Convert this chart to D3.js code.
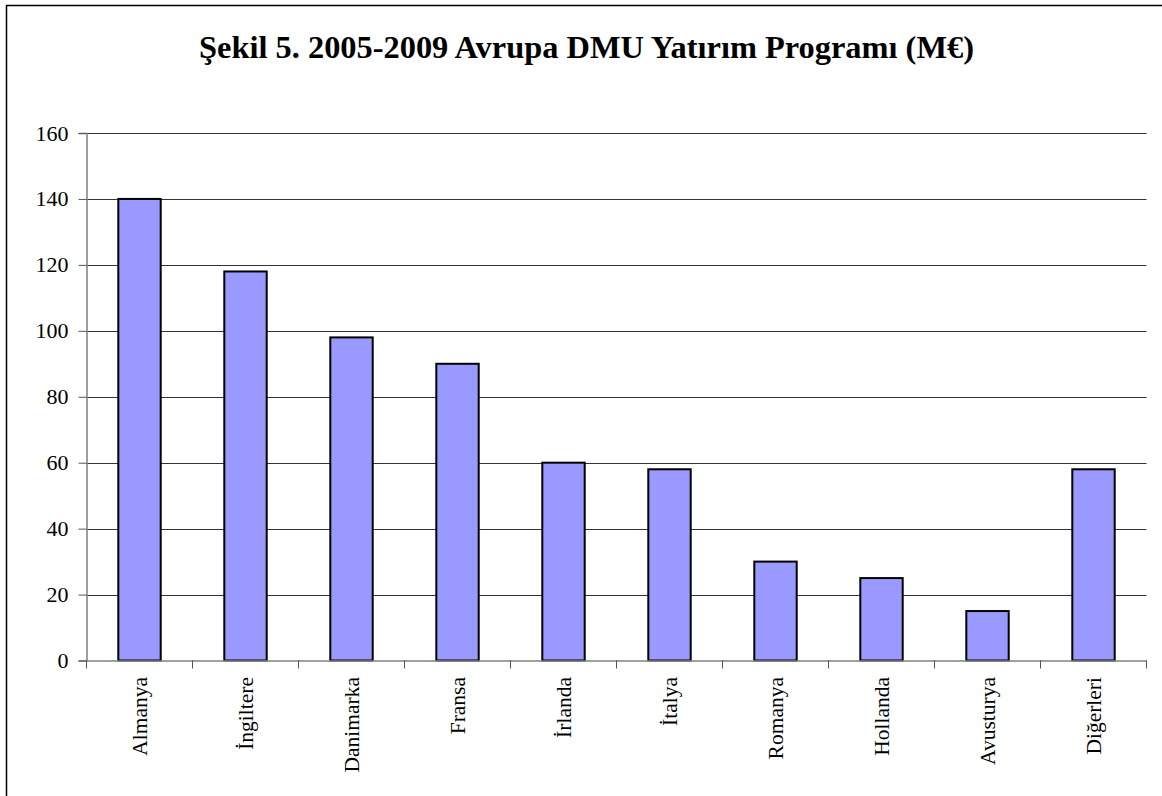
<!DOCTYPE html>
<html>
<head>
<meta charset="utf-8">
<script src="https://cdn.jsdelivr.net/npm/d3@7"></script>
<style>
  html, body { margin: 0; padding: 0; background: #fff; }
  svg { display: block; }
  text { font-family: "Liberation Serif", "Times New Roman", serif; fill: #000; }
</style>
</head>
<body>
<svg id="chart" width="1162" height="796"></svg>
<script>
const titleText = "Şekil 5. 2005-2009 Avrupa DMU Yatırım Programı (M€)";
const categories = ["Almanya", "İngiltere", "Danimarka", "Fransa", "İrlanda", "İtalya", "Romanya", "Hollanda", "Avusturya", "Diğerleri"];
const values = [140, 118, 98, 90, 60, 58, 30, 25, 15, 58];
const yTicks = [0, 20, 40, 60, 80, 100, 120, 140, 160];

(function () {
const svg = d3.select("#chart");
const pLeft = 86.5, pRight = 1146.5, pTop = 133, pBottom = 660.5;

// frame
svg.append("rect")
  .attr("x", 6.5).attr("y", 5.5)
  .attr("width", 1300).attr("height", 900)
  .attr("fill", "none").attr("stroke", "#000").attr("stroke-width", 1.5);

// title
svg.append("text")
  .attr("x", 586.5).attr("y", 58)
  .attr("text-anchor", "middle")
  .attr("font-family", "Liberation Serif, serif")
  .attr("font-size", 32.4).attr("font-weight", "bold")
  .text(titleText);

const x = d3.scaleBand().domain(categories).range([pLeft, pRight]).padding(0);
const y = d3.scaleLinear().domain([0, 160]).range([pBottom, pTop]);

// gridlines
svg.append("g").selectAll("line").data(yTicks.filter(d => d > 0)).join("line")
  .attr("x1", pLeft).attr("x2", pRight)
  .attr("y1", d => Math.round(y(d)) + 0.5).attr("y2", d => Math.round(y(d)) + 0.5)
  .attr("stroke", "#333").attr("stroke-width", 1);

// bars
const bw = x.bandwidth() * 0.4;
svg.append("g").selectAll("rect").data(values).join("rect")
  .attr("x", (d, i) => x(categories[i]) + x.bandwidth() / 2 - bw / 2)
  .attr("y", d => y(d))
  .attr("width", bw)
  .attr("height", d => y(0) - y(d))
  .attr("fill", "#9999ff").attr("stroke", "#000").attr("stroke-width", 2);

// y axis
const yAxis = d3.axisLeft(y).tickValues(yTicks).tickSize(8).tickPadding(10).tickFormat(d3.format("d"));
const gy = svg.append("g").attr("transform", `translate(${pLeft},0)`).call(yAxis)
  .attr("font-family", "Liberation Serif, serif").attr("font-size", 22);
gy.select(".domain").attr("stroke", "#808080").attr("stroke-width", 1.5);
gy.selectAll(".tick line").attr("stroke", "#555");
gy.selectAll(".tick text").attr("fill", "#000")
  .attr("font-family", "Liberation Serif, serif").attr("font-size", 22);

// x axis
const xAxis = d3.axisBottom(x).tickSize(0).tickFormat("");
const gx = svg.append("g").attr("transform", `translate(0,${pBottom})`).call(xAxis);
gx.select(".domain").attr("stroke", "#808080").attr("stroke-width", 1.5);
gx.selectAll(".tick").remove();
const bounds = categories.map(c => x(c)).concat([pRight]);
gx.selectAll("line.bt").data(bounds).join("line").attr("class", "bt")
  .attr("x1", d => d).attr("x2", d => d).attr("y1", 0).attr("y2", 8)
  .attr("stroke", "#555").attr("stroke-width", 1);

// category labels
svg.append("g").selectAll("text").data(categories).join("text")
  .attr("transform", d => `translate(${x(d) + x.bandwidth() / 2},677) rotate(-90)`)
  .attr("text-anchor", "end")
  .attr("dy", "0.35em")
  .attr("font-family", "Liberation Serif, serif")
  .attr("font-size", 21.5)
  .text(d => d);
})();
</script>
</body>
</html>
